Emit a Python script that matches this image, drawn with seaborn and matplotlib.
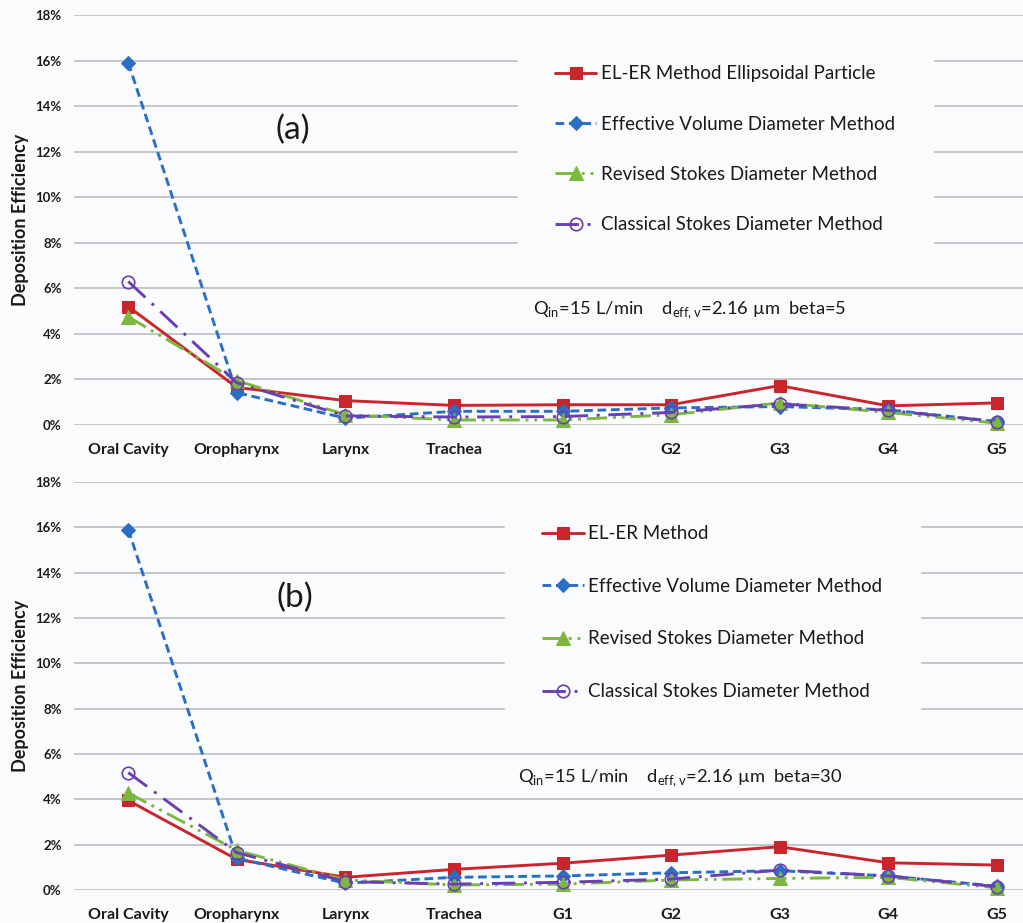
import numpy as np
import pandas as pd
import matplotlib
matplotlib.use("Agg")
import matplotlib.pyplot as plt
from matplotlib.ticker import FuncFormatter
import seaborn as sns

# ---------------- data ----------------
categories = ["Oral Cavity", "Oropharynx", "Larynx", "Trachea", "G1", "G2", "G3", "G4", "G5"]

# panel (a): beta = 5  (deposition efficiency, %)
a_eler = [5.2, 1.65, 1.07, 0.86, 0.89, 0.89, 1.73, 0.84, 0.97]
a_evd = [15.9, 1.42, 0.30, 0.60, 0.60, 0.75, 0.81, 0.67, 0.15]
a_rsd = [4.75, 1.95, 0.45, 0.22, 0.22, 0.45, 0.97, 0.55, 0.08]
a_csd = [6.3, 1.85, 0.40, 0.35, 0.37, 0.55, 0.93, 0.64, 0.15]

# panel (b): beta = 30
b_eler = [3.95, 1.35, 0.56, 0.91, 1.18, 1.54, 1.91, 1.20, 1.10]
b_evd = [15.9, 1.40, 0.30, 0.56, 0.62, 0.76, 0.85, 0.62, 0.17]
b_rsd = [4.28, 1.75, 0.44, 0.22, 0.26, 0.44, 0.51, 0.56, 0.10]
b_csd = [5.18, 1.65, 0.37, 0.26, 0.34, 0.48, 0.88, 0.62, 0.15]

a_labels = ["EL-ER Method Ellipsoidal Particle", "Effective Volume Diameter Method",
            "Revised Stokes Diameter Method", "Classical Stokes Diameter Method"]
b_labels = ["EL-ER Method", "Effective Volume Diameter Method",
            "Revised Stokes Diameter Method", "Classical Stokes Diameter Method"]
yticks = [0, 2, 4, 6, 8, 10, 12, 14, 16, 18]

# ---------------- style ----------------
sns.set_theme(style="white")
plt.rcParams["font.family"] = ["Lato", "DejaVu Sans"]
BG = "#fafbfd"

styles = [
    dict(color="#c9252c", linestyle="-", marker="s", markersize=9,
         markerfacecolor="#c9252c", markeredgecolor="#c9252c", linewidth=2.1),
    dict(color="#2a6fc6", linestyle=(0, (3, 1.6)), marker="D", markersize=7,
         markerfacecolor="#2a6fc6", markeredgecolor="#2a6fc6", linewidth=2.1),
    dict(color="#7cb83f", linestyle=(0, (7, 2, 1, 2, 1, 2)), marker="^", markersize=10,
         markerfacecolor="#7cb83f", markeredgecolor="#7cb83f", linewidth=2.1),
    dict(color="#6a3fb2", linestyle=(0, (8, 3, 1, 3)), marker="o", markersize=9,
         markerfacecolor="none", markeredgecolor="#6a3fb2", markeredgewidth=1.2, linewidth=2.1),
]

fig = plt.figure(figsize=(10.23, 9.23), dpi=100, facecolor=BG)
ax_a = fig.add_axes([74 / 1023, 1 - 425 / 923, 977 / 1023, 410 / 923])
ax_b = fig.add_axes([74 / 1023, 1 - 890 / 923, 977 / 1023, 408 / 923])


def draw(ax, series, labels, tag, note, leg_anchor, leg_spacing, note_xy, tag_xy):
    ax.set_facecolor(BG)
    for vals, lab, st in zip(series, labels, styles):
        df = pd.DataFrame({"region": categories, "eff": vals})
        sns.lineplot(data=df, x="region", y="eff", ax=ax, sort=False, errorbar=None,
                     label=lab, clip_on=False, zorder=3, **st)
    ax.set_xlim(-0.5, len(categories) - 0.5)
    ax.set_ylim(0, 18)
    ax.set_yticks(yticks)
    ax.yaxis.set_major_formatter(FuncFormatter(lambda v, p: f"{v:.0f}%"))
    ax.grid(axis="y", color="#c4c6c9", linewidth=1.4)
    ax.grid(axis="x", visible=False)
    ax.set_axisbelow(True)
    for s in ax.spines.values():
        s.set_visible(False)
    ax.tick_params(axis="x", length=0, pad=13, labelsize=11.5)
    ax.tick_params(axis="y", length=0, pad=9, labelsize=9.5)
    for t in ax.get_xticklabels() + ax.get_yticklabels():
        t.set_fontweight("bold")
        t.set_color("#1a1a1a")
    ax.set_xlabel("")
    ax.set_ylabel("Deposition Efficiency", fontsize=13, fontweight="bold", color="#1a1a1a")
    ax.yaxis.set_label_coords(-0.046, 0.5)
    leg = ax.legend(loc="upper left", bbox_to_anchor=leg_anchor, frameon=True,
                    borderaxespad=0, borderpad=2.0, handlelength=2.2, handletextpad=0.25,
                    labelspacing=leg_spacing, fontsize=13.5, facecolor=BG, edgecolor=BG,
                    fancybox=False, framealpha=1)
    leg.set_zorder(2)
    for t in leg.get_texts():
        t.set_color("#1a1a1a")
    ax.text(tag_xy[0], tag_xy[1], tag, transform=ax.transAxes, fontsize=24,
            ha="center", va="center", color="#1a1a1a")
    ax.text(note_xy[0], note_xy[1], note, transform=ax.transAxes, fontsize=13.2,
            ha="left", va="center", color="#1a1a1a")


note_a = r"Q$_{\mathregular{in}}$=15 L/min    d$_{\mathregular{eff,v}}$=2.16 µm  beta=5"
note_b = r"Q$_{\mathregular{in}}$=15 L/min    d$_{\mathregular{eff,v}}$=2.16 µm  beta=30"

draw(ax_a, [a_eler, a_evd, a_rsd, a_csd], a_labels, "(a)", note_a,
     (0.454, 0.969), 1.78, (0.470, 0.280), (0.224, 0.72))
draw(ax_b, [b_eler, b_evd, b_rsd, b_csd], b_labels, "(b)", note_b,
     (0.441, 0.986), 1.9, (0.454, 0.2745), (0.226, 0.716))

fig.savefig("out.png", dpi=100, facecolor=BG)
